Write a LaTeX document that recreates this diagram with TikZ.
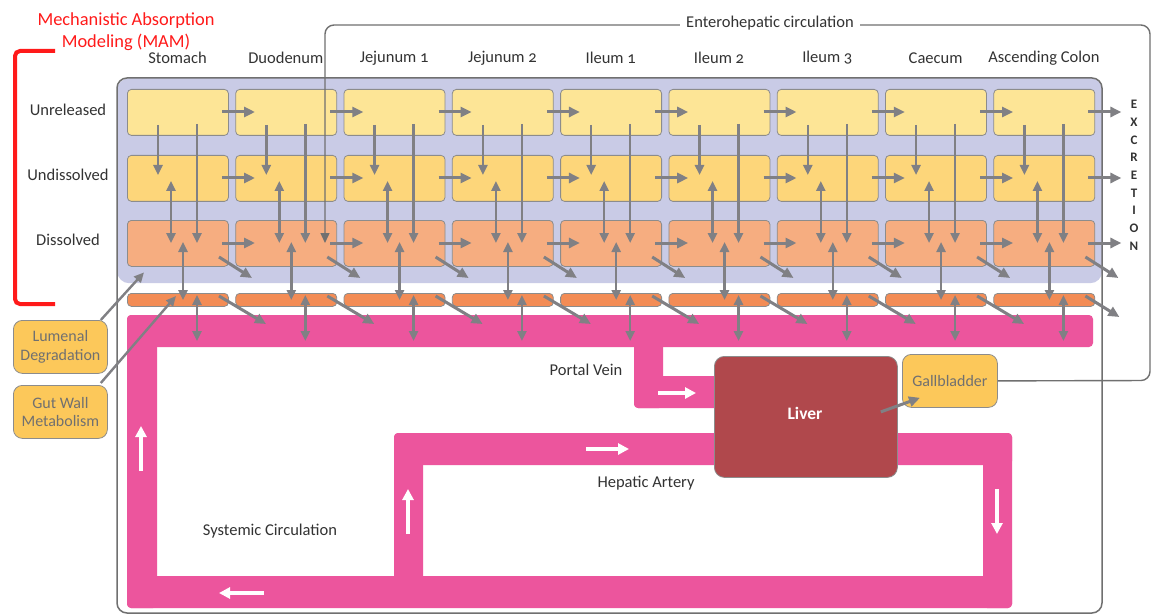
\documentclass[tikz,border=0pt]{standalone}
\usepackage{fontspec}
\setmainfont{Carlito}[Numbers=OldStyle]
\newfontfamily\titlefont{Carlito}
\usetikzlibrary{arrows.meta,calc}
\definecolor{lav}{HTML}{C9CBE6}
\definecolor{unrel}{HTML}{FDE596}
\definecolor{undis}{HTML}{FDD67A}
\definecolor{diss}{HTML}{F6AD80}
\definecolor{wallc}{HTML}{F38C55}
\definecolor{pinkc}{HTML}{EC559D}
\definecolor{liverc}{HTML}{B0484C}
\definecolor{gallc}{HTML}{FCC85A}
\definecolor{ag}{HTML}{808084}
\definecolor{bgray}{HTML}{8C8C8C}
\definecolor{fgray}{HTML}{707070}
\definecolor{txt}{HTML}{333333}
\definecolor{mamred}{HTML}{FF1A1A}
\tikzset{
  comp/.style={draw=bgray, line width=0.8pt, rounded corners=4pt, minimum width=101pt, minimum height=46pt, inner sep=0pt, anchor=north west},
  wallbox/.style={comp, fill=wallc, minimum height=13pt},
  hdr/.style={font=\fontsize{16.5}{18}\selectfont, text=txt, inner sep=0pt},
  rowlab/.style={font=\fontsize{16.5}{18}\selectfont, text=txt, inner sep=0pt},
  side/.style={draw=bgray, line width=0.8pt, fill=gallc, rounded corners=9pt, minimum width=94pt, minimum height=53pt, align=center, font=\fontsize{16}{18.5}\selectfont, text=fgray, inner sep=0pt},
  ga/.style={draw=ag, line width=3pt, -{Triangle[length=11pt,width=10pt]}},
  gd/.style={draw=ag, line width=2.4pt, -{Triangle[length=10pt,width=9pt]}},
  gda/.style={draw=ag, line width=2.4pt, {Triangle[length=10pt,width=9pt]}-{Triangle[length=10pt,width=9pt]}},
  wa/.style={draw=white, line width=3.6pt, -{Triangle[length=11pt,width=11pt]}},
  pipe/.style={fill=pinkc, rounded corners=4pt},
  lbl/.style={font=\fontsize{16.5}{18}\selectfont, text=txt, inner sep=0pt},
}
\begin{document}
\begin{tikzpicture}[x=1pt,y=-1pt]
\useasboundingbox (0,0) rectangle (1152,615);
\fill[white] (0,0) rectangle (1152,615);
% lavender MAM background
\node[fill=lav, rounded corners=12pt, minimum width=985pt, minimum height=205pt, anchor=north west, inner sep=0pt] (mam) at (117,78) {};
% outer frame
\draw[fgray, line width=1.5pt, rounded corners=10pt] (117,78) rectangle (1102,613);
% title and bracket
\node[font=\titlefont\fontsize{18.4}{22}\selectfont, text=mamred, align=center, inner sep=0pt] (title) at (126,32) {Mechanistic Absorption\\Modeling (MAM)};
\draw[mamred, line width=4pt, rounded corners=5pt] (55,51) -- (15,51) -- (15,304) -- (55,304);
% row labels
\node[rowlab] (lu) at (68,110) {Unreleased};
\node[rowlab] (lud) at (68,175) {Undissolved};
\node[rowlab] (ld) at (68,240) {Dissolved};
% pink circulation
\fill[pipe] (127,315) rectangle (1093,347);
\fill[pipe] (127,315) rectangle (157,608);
\fill[pipe] (127,576) rectangle (1012,608);
\fill[pipe] (983,433) rectangle (1012,608);
\fill[pipe] (394,433) rectangle (1012,465);
\fill[pipe] (394,433) rectangle (423,590);
\fill[pipe] (634,340) rectangle (663,408);
\fill[pipe] (634,376) rectangle (724,408);
% compartments
\foreach \i/\nm in {0/Stomach,1/Duodenum,2/Jejunum 1,3/Jejunum 2,4/Ileum 1,5/Ileum 2,6/Ileum 3,7/Caecum,8/Ascending Colon}{
  \pgfmathsetmacro\L{127+108.3*\i}
  \node[hdr] (h\i) at (\L+50.5,58) {\nm};
  \node[comp, fill=unrel] (u\i) at (\L,89) {};
  \node[comp, fill=undis] (ud\i) at (\L,155) {};
  \node[comp, fill=diss] (d\i) at (\L,220) {};
  \node[wallbox] (w\i) at (\L,293) {};
}
\foreach \i in {0,...,8}{
  % transit arrows
  \draw[ga] ($(u\i.north west)+(95,23)$) -- ($(u\i.north west)+(128,23)$);
  \draw[ga] ($(ud\i.north west)+(95,23)$) -- ($(ud\i.north west)+(128,23)$);
  \draw[ga] ($(d\i.north west)+(95,23)$) -- ($(d\i.north west)+(128,23)$);
  % release / dissolution
  \draw[gd] ($(u\i.north west)+(31,36)$) -- ($(ud\i.north west)+(31,20)$);
  \draw[gd] ($(u\i.north west)+(70,35)$) -- ($(d\i.north west)+(70,23)$);
  \draw[gda] ($(ud\i.north west)+(44,26)$) -- ($(d\i.north west)+(44,23)$);
  \draw[gda] ($(d\i.north west)+(56,22)$) -- ($(w\i.north west)+(56,7)$);
  \draw[gda] ($(w\i.north west)+(70,2)$) -- ($(w\i.north west)+(70,48)$);
  \draw[ga] ($(d\i.north west)+(92,37)$) -- ($(d\i.north west)+(125,58)$);
  \ifnum\i<8
    \draw[ga] ($(w\i.north west)+(92,3)$) -- ($(w\i.north west)+(139,31)$);
  \else
    \draw[ga] ($(w\i.north west)+(92,3)$) -- ($(w\i.north west)+(126,24)$);
  \fi
}
% excretion
\node[font=\bfseries\fontsize{13}{17.7}\selectfont, text=txt, align=center, inner sep=0pt, anchor=north] (excr) at (1134,100) {E\\X\\C\\R\\E\\T\\I\\O\\N};
% liver and gallbladder
\node[draw=bgray, line width=0.8pt, fill=liverc, rounded corners=10pt, minimum width=183pt, minimum height=121pt, inner sep=0pt, anchor=north west] (liver) at (714,356) {};
\node[text=white, font=\bfseries\fontsize{17.5}{20}\selectfont, inner sep=0pt] (livertxt) at (805,413) {Liver};
\node[side, anchor=north west, minimum width=95pt] (gall) at (902,354) {Gallbladder};
\draw[ga] ($(liver.east)+(-17,-5)$) -- ($(gall.south west)+(18,-10)$);
% side processes
\node[side, anchor=north west] (lum) at (13,320) {Lumenal\\Degradation};
\node[side, anchor=north west] (gwm) at (13,385) {Gut Wall\\Metabolism};
\draw[gd] ($(lum.north east)+(-7,0)$) -- ($(mam.south west)+(27,-11)$);
\draw[gd] ($(gwm.north east)+(-7,-2)$) -- ($(w0.north west)+(49,3)$);
% enterohepatic circulation
\draw[draw=fgray, line width=1.4pt, rounded corners=9pt, -{Triangle[length=10pt,width=9pt]}] (gall.east) -- (1150,380.5) -- (1150,25) -- (325,25) -- ($(d1.north west)+(89.7,23)$);
\node[fill=white, inner xsep=6pt, inner ysep=2pt, font=\fontsize{16.5}{18}\selectfont, text=txt] (ent) at (770,23) {Enterohepatic circulation};
% pipe labels
\node[lbl] (pv) at (586,370) {Portal Vein};
\node[lbl] (ha) at (646,483) {Hepatic Artery};
\node[lbl] (sc) at (270,531) {Systemic Circulation};
% flow arrows
\draw[wa] (141,471) -- (141,426);
\draw[wa] (264,593) -- (219,593);
\draw[wa] (408,534) -- (408,489);
\draw[wa] (586,449) -- (629,449);
\draw[wa] (997,489) -- (997,534);
\draw[wa] (658,393) -- (696,393);
\end{tikzpicture}
\end{document}
